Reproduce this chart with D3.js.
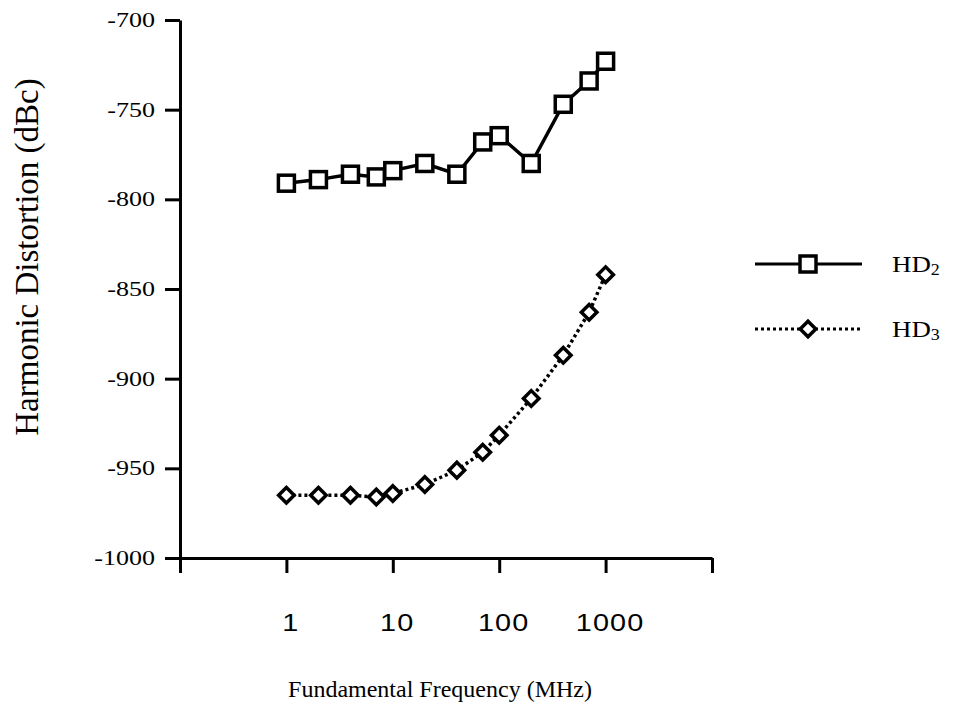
<!DOCTYPE html>
<html>
<head>
<meta charset="utf-8">
<script src="https://cdn.jsdelivr.net/npm/d3@7"></script>
<style>
  html, body { margin: 0; padding: 0; background: #fff; }
  svg { display: block; }
</style>
</head>
<body>
<svg id="chart" width="958" height="718"></svg>
<script>
// ---- data ----
const frequencies = [1, 2, 4, 7, 10, 20, 40, 70, 100, 200, 400, 700, 1000];
const hd2Values = [-791, -789, -786, -787.5, -784, -780, -786, -768, -764.5, -780, -747, -734, -723];
const hd3Values = [-965, -965, -965, -966, -964, -959, -951, -941, -931.5, -911, -887, -863, -842];
const yTickValues = [-700, -750, -800, -850, -900, -950, -1000];
const xTickValues = [0.1, 1, 10, 100, 1000, 10000];
const xTickLabels = ["", "1", "10", "100", "1000", ""];
const seriesNames = ["HD", "HD"];
const seriesSubs = ["2", "3"];

const svg = d3.select("#chart");
const serif = "'Liberation Serif', 'Times New Roman', serif";
const sans = "'Liberation Sans', Arial, sans-serif";
const SX = 1.27; // horizontal stretch of the scanned text

const x = d3.scaleLog().domain([0.1, 10000]).range([180, 712]);
const y = d3.scaleLinear().domain([-1000, -700]).range([558, 20]);

// y axis
const gy = svg.append("g").attr("transform", "translate(180,0)")
  .call(d3.axisLeft(y).tickValues(yTickValues).tickSize(15).tickSizeOuter(0)
    .tickFormat(d => String(d)));
gy.select(".domain").attr("stroke", "#000").attr("stroke-width", 3);
gy.selectAll(".tick line").attr("stroke", "#000").attr("stroke-width", 3);
gy.selectAll(".tick text")
  .attr("x", 0)
  .attr("transform", "translate(-25,0) scale(" + SX + ",1)")
  .attr("font-family", serif).attr("font-size", 20.5).attr("fill", "#000");

// x axis
const gx = svg.append("g").attr("transform", "translate(0,558)")
  .call(d3.axisBottom(x).tickValues(xTickValues).tickSize(15).tickSizeOuter(0)
    .tickFormat((d, i) => xTickLabels[i]));
gx.select(".domain").attr("stroke", "#000").attr("stroke-width", 3);
gx.selectAll(".tick line").attr("stroke", "#000").attr("stroke-width", 3);
gx.selectAll(".tick text")
  .attr("y", 0).attr("dy", 0)
  .attr("transform", "translate(4,73) scale(1.2,1)")
  .attr("font-family", sans).attr("font-size", 24).attr("fill", "#000")
  .attr("letter-spacing", 1);

// axis titles
svg.append("text")
  .attr("transform", "translate(38,257) rotate(-90)")
  .attr("text-anchor", "middle")
  .attr("font-family", serif).attr("font-size", 33).attr("fill", "#000")
  .text("Harmonic Distortion (dBc)");

svg.append("text")
  .attr("transform", "translate(440,697)")
  .attr("text-anchor", "middle")
  .attr("font-family", serif).attr("font-size", 24).attr("fill", "#000")
  .text("Fundamental Frequency (MHz)");

// series
const line = d3.line().x(d => x(d[0])).y(d => y(d[1]));
const hd2 = frequencies.map((f, i) => [f, hd2Values[i]]);
const hd3 = frequencies.map((f, i) => [f, hd3Values[i]]);

svg.append("path").datum(hd2).attr("d", line)
  .attr("fill", "none").attr("stroke", "#000").attr("stroke-width", 3.5);
svg.append("path").datum(hd3).attr("d", line)
  .attr("fill", "none").attr("stroke", "#000").attr("stroke-width", 3.5)
  .attr("stroke-dasharray", "3,3");

function square(g, cx, cy) {
  g.append("rect").attr("x", cx - 8).attr("y", cy - 8).attr("width", 16).attr("height", 16)
    .attr("fill", "#fff").attr("stroke", "#000").attr("stroke-width", 3.5);
}
function diamond(g, cx, cy) {
  g.append("rect").attr("x", -5.5).attr("y", -5.5).attr("width", 11).attr("height", 11)
    .attr("transform", "translate(" + cx + "," + cy + ") rotate(45)")
    .attr("fill", "#fff").attr("stroke", "#000").attr("stroke-width", 3.5);
}
const gm = svg.append("g");
hd2.forEach(d => square(gm, x(d[0]), y(d[1])));
hd3.forEach(d => diamond(gm, x(d[0]), y(d[1])));

// legend
const legendY = [264, 329];
const lg = svg.append("g");
lg.append("line").attr("x1", 755).attr("x2", 862).attr("y1", legendY[0]).attr("y2", legendY[0])
  .attr("stroke", "#000").attr("stroke-width", 3);
square(lg, 808, legendY[0]);
lg.append("line").attr("x1", 755).attr("x2", 862).attr("y1", legendY[1]).attr("y2", legendY[1])
  .attr("stroke", "#000").attr("stroke-width", 3).attr("stroke-dasharray", "3,3");
diamond(lg, 808, legendY[1]);
legendY.forEach((ly, i) => {
  const t = lg.append("text")
    .attr("transform", "translate(892," + (ly + 8) + ") scale(1.12,1)")
    .attr("font-family", serif).attr("font-size", 24).attr("fill", "#000");
  t.append("tspan").text(seriesNames[i]);
  t.append("tspan").attr("font-size", 16).attr("dy", 3).text(seriesSubs[i]);
});
</script>
</body>
</html>
